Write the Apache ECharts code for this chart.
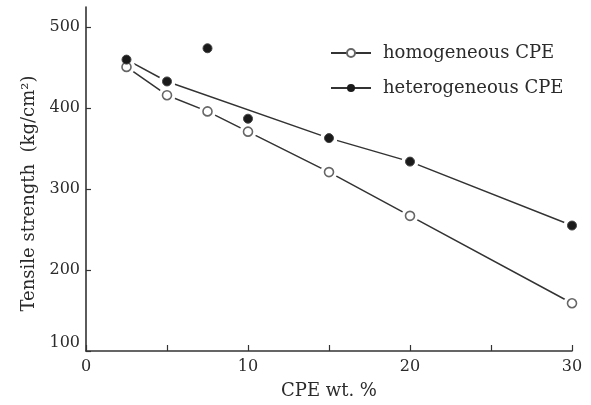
<!DOCTYPE html>
<html>
<head>
<meta charset="utf-8">
<script src="https://cdn.jsdelivr.net/npm/echarts@6/dist/echarts.min.js"></script>
<style>html,body{margin:0;padding:0;background:#fff}#c{width:591px;height:405px}</style>
</head>
<body>
<div id="c"></div>
<script>
// CPE content (wt.%)
const cpeWt = [2.5, 5, 7.5, 10, 15, 20, 30];
// Tensile strength (kg/cm2)
const homogeneous = [451, 416, 396, 371, 321, 267, 159];
const heterogeneous = [460, 433, 474, 387, 363, 334, 255];
// hand-drawn trend line for heterogeneous CPE (passes by the deviating points)
const heteroLineX = [2.5, 5, 15, 20, 30];
const heteroLineY = [460, 433, 363, 334, 255];
const yTicks = [100, 200, 300, 400, 500];
const xTicks = [0, 5, 10, 15, 20, 25, 30];
const xLabels = [0, 10, 20, 30];
const seriesNames = ['homogeneous CPE', 'heterogeneous CPE'];

const FONT = 'DejaVu Serif';
const INK = '#2b2b2b';
const zip = (a, b) => a.map((v, i) => [v, b[i]]);
const homoPts = zip(cpeWt, homogeneous);
const heteroPts = zip(cpeWt, heterogeneous);
const heteroLine = zip(heteroLineX, heteroLineY);

// white discs that open small gaps in the lines around each marker
const mask = (data) => ({
  type: 'scatter', data, z: 3, silent: true, symbolSize: 17,
  itemStyle: {color: '#ffffff', opacity: 1}, emphasis: {disabled: true}
});

const chart = echarts.init(document.getElementById('c'), null, {renderer: 'canvas'});
chart.setOption({
  animation: false,
  backgroundColor: '#fff',
  textStyle: {fontFamily: FONT, color: INK},
  grid: {left: 86, right: 19, top: 7, bottom: 53},
  legend: {
    orient: 'vertical', left: 330, top: 43, padding: 0,
    itemWidth: 40, itemHeight: 10, itemGap: 15,
    data: seriesNames,
    textStyle: {fontFamily: FONT, fontSize: 18, color: INK, lineHeight: 20, padding: [0, 0, 0, 7]}
  },
  xAxis: {
    type: 'value', min: 0, max: 30, interval: 5,
    name: 'CPE wt. %', nameLocation: 'middle', nameGap: 31,
    nameTextStyle: {fontFamily: FONT, fontSize: 18, color: INK},
    axisLine: {lineStyle: {color: '#333', width: 1.6}},
    axisTick: {inside: true, length: 6, customValues: xTicks, lineStyle: {color: '#333', width: 1.2}},
    axisLabel: {customValues: xLabels, margin: 8, fontFamily: FONT, fontSize: 16, color: INK},
    splitLine: {show: false}
  },
  yAxis: {
    type: 'value', min: 100, max: 525, interval: 100,
    name: 'Tensile strength  (kg/cm²)', nameLocation: 'middle', nameGap: 45, nameRotate: 90,
    nameTextStyle: {fontFamily: FONT, fontSize: 18, color: INK, padding: [0, 29, 0, 0]},
    axisLine: {lineStyle: {color: '#333', width: 1.6}},
    axisTick: {inside: true, length: 5, customValues: yTicks, lineStyle: {color: '#333', width: 1.2}},
    axisLabel: {customValues: yTicks, margin: 6, fontFamily: FONT, fontSize: 16, color: INK,
                verticalAlignMinLabel: 'bottom'},
    splitLine: {show: false}
  },
  series: [
    {
      name: seriesNames[0], type: 'line', data: homoPts, z: 2,
      symbol: 'circle', symbolSize: 9,
      lineStyle: {color: '#333', width: 1.5},
      itemStyle: {color: '#fff', borderColor: '#666', borderWidth: 1.6}
    },
    {
      name: seriesNames[1], type: 'line', data: heteroLine, z: 2,
      symbol: 'circle', symbolSize: 9,
      lineStyle: {color: '#333', width: 1.5},
      itemStyle: {color: '#1a1a1a', borderColor: '#1a1a1a', borderWidth: 0}
    },
    mask(homoPts),
    mask(heteroLine),
    {
      type: 'scatter', data: homoPts, z: 4, silent: true,
      symbolSize: 9, itemStyle: {color: '#fff', borderColor: '#666', borderWidth: 1.6, opacity: 1}
    },
    {
      type: 'scatter', data: heteroPts, z: 5, silent: true,
      symbolSize: 9, itemStyle: {color: '#1a1a1a', borderColor: '#444', borderWidth: 1, opacity: 1}
    }
  ]
});
</script>
</body>
</html>
